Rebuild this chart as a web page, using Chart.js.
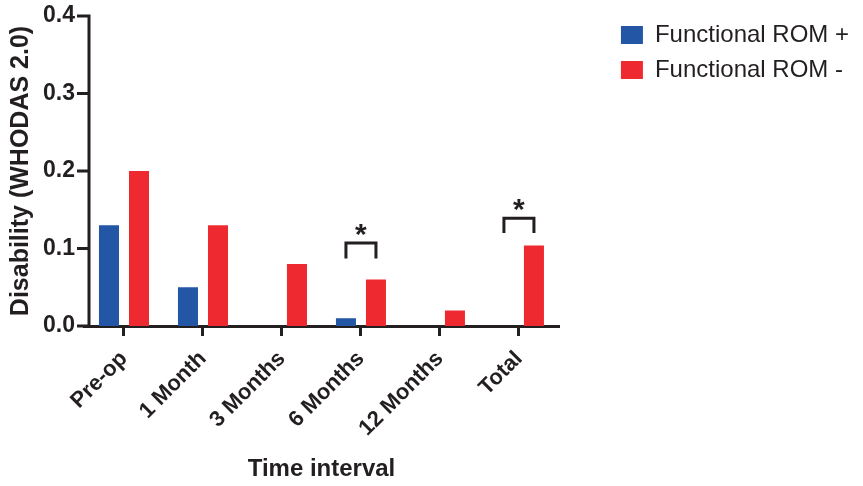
<!DOCTYPE html>
<html>
<head>
<meta charset="utf-8">
<script src="https://cdn.jsdelivr.net/npm/chart.js@4.4.0/dist/chart.umd.min.js"></script>
<style>
html, body { margin: 0; padding: 0; background: #fff; }
#wrap { width: 863px; height: 486px; position: relative; }
</style>
</head>
<body>
<div id="wrap"><canvas id="myChart"></canvas></div>
<script>
// chart values
const intervals = ['Pre-op', '1 Month', '3 Months', '6 Months', '12 Months', 'Total'];
const romPlus = [0.13, 0.05, 0, 0.01, 0, 0];
const romMinus = [0.20, 0.13, 0.08, 0.06, 0.02, 0.104];

// significance brackets: category index, bracket top, leg end
const sigIndex = [3, 5];
const sigTop = [0.107, 0.139];
const sigLeg = [0.087, 0.12];

const ink = '#231f20';
const blue = '#2356a5';
const red = '#ee2a30';
const fam = '"Liberation Sans", Arial, sans-serif';

// y axis sits a little right of the plot edge (prism style), plus brackets
const prismAxis = {
    id: 'prismAxis',
    afterDraw(chart) {
        const ctx = chart.ctx;
        const y = chart.scales.y;
        const area = chart.chartArea;
        const ax = area.left + 4.5;
        ctx.save();
        ctx.strokeStyle = ink;
        ctx.lineWidth = 3;
        ctx.beginPath();
        ctx.moveTo(ax, y.getPixelForValue(y.max) - 1.5);
        ctx.lineTo(ax, area.bottom);
        y.ticks.forEach(t => {
            const py = y.getPixelForValue(t.value);
            ctx.moveTo(ax - 12, py);
            ctx.lineTo(ax, py);
        });
        ctx.stroke();

        const m0 = chart.getDatasetMeta(0);
        const m1 = chart.getDatasetMeta(1);
        ctx.fillStyle = ink;
        ctx.font = 'bold 30px ' + fam;
        ctx.textAlign = 'center';
        ctx.textBaseline = 'alphabetic';
        sigIndex.forEach((i, k) => {
            const x0 = m0.data[i].x, x1 = m1.data[i].x;
            const top = y.getPixelForValue(sigTop[k]);
            const leg = y.getPixelForValue(sigLeg[k]);
            ctx.beginPath();
            ctx.moveTo(x0, leg);
            ctx.lineTo(x0, top);
            ctx.lineTo(x1, top);
            ctx.lineTo(x1, leg);
            ctx.stroke();
            ctx.fillText('*', (x0 + x1) / 2, top + 1);
        });
        ctx.restore();
    }
};

var ctx = document.getElementById('myChart').getContext('2d');

new Chart(ctx, {
    type: 'bar',
    data: {
        labels: intervals,
        datasets: [
            {
                label: 'Functional ROM +',
                data: romPlus,
                backgroundColor: blue,
                categoryPercentage: 0.76,
                barPercentage: 0.667
            },
            {
                label: 'Functional ROM -',
                data: romMinus,
                backgroundColor: red,
                categoryPercentage: 0.76,
                barPercentage: 0.667
            }
        ]
    },
    options: {
        responsive: true,
        maintainAspectRatio: false,
        animation: false,
        layout: { padding: { top: 12, right: 4, bottom: 2, left: 4 } },
        plugins: {
            legend: {
                position: 'right',
                align: 'start',
                maxWidth: 300,
                labels: {
                    boxWidth: 22,
                    boxHeight: 18,
                    padding: 11,
                    color: ink,
                    font: { size: 24, family: fam }
                }
            },
            tooltip: { enabled: false }
        },
        scales: {
            x: {
                grid: { display: true, drawOnChartArea: false, drawTicks: true, tickLength: 10, offset: false, color: ink, lineWidth: 3 },
                border: { display: true, color: ink, width: 3 },
                ticks: {
                    color: ink,
                    font: { size: 22, weight: 'bold', family: fam },
                    minRotation: 45,
                    maxRotation: 45,
                    autoSkip: false,
                    padding: 10
                },
                title: {
                    display: true,
                    text: 'Time interval',
                    color: ink,
                    font: { size: 24, weight: 'bold', family: fam },
                    padding: { top: 0, bottom: 0 }
                },
                afterFit(s) { s.height = 158; s.paddingLeft = 0; s.paddingRight = 0; }
            },
            y: {
                min: 0,
                max: 0.4,
                grid: { display: false, drawTicks: false },
                border: { display: false },
                ticks: {
                    stepSize: 0.1,
                    padding: 9.5,
                    color: ink,
                    font: { size: 23, weight: 'bold', family: fam },
                    callback: v => v.toFixed(1)
                },
                title: {
                    display: true,
                    text: 'Disability (WHODAS 2.0)',
                    color: ink,
                    font: { size: 25, weight: 'bold', family: fam },
                    padding: { top: 2, bottom: 0 }
                },
                afterFit(s) { s.width = 80.5; s.paddingTop = 16; s.paddingBottom = 0; }
            },
            gap: {
                position: 'right',
                display: true,
                grid: { display: false },
                border: { display: false },
                ticks: { display: false },
                afterFit(s) { s.width = 51.5; }
            }
        }
    },
    plugins: [prismAxis]
});
</script>
</body>
</html>
